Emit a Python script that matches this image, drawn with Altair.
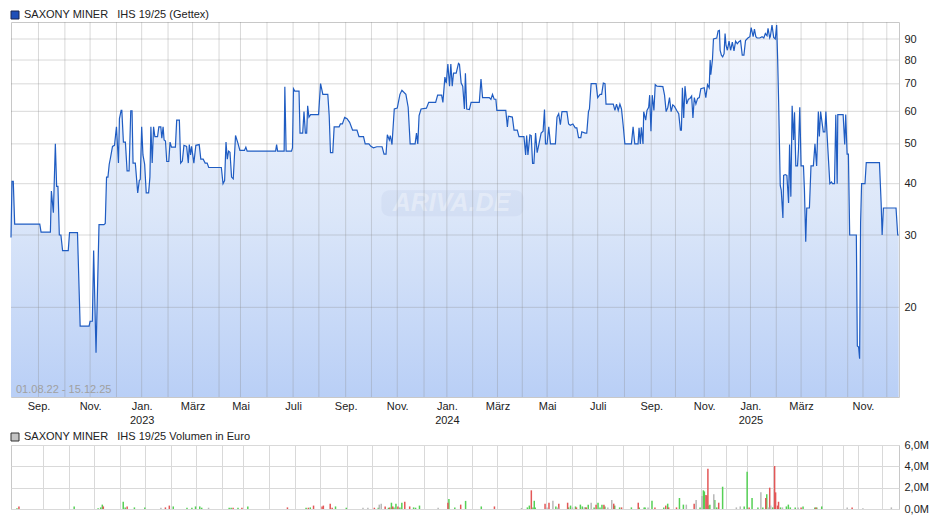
import altair as alt
import pandas as pd

title_main = "SAXONY MINER\u00a0\u00a0 IHS 19/25 (Gettex)"
title_vol = "SAXONY MINER\u00a0\u00a0 IHS 19/25 Volumen in Euro"
date_range_label = "01.08.22 - 15.12.25"
watermark = "ARIVA.DE"

# x axis is a trading-session index (days without trades are skipped)
session_domain = [0, 895]

price_session = [
    0, 1.0, 2.3, 3.7, 29.0, 30.3, 39.7, 40.7, 42.7, 44.7, 46.0, 47.3, 48.7, 50.3, 52.0, 57.7, 59.0, 67.0,
    69.7, 78.7, 79.7, 82.0, 83.3, 85.7, 88.7, 93.7, 95.0, 96.3, 97.7, 99.0, 100.3, 102.3, 104.3, 106.3,
    108.3, 109.3, 111.0, 111.7, 113.3, 115.3, 117.0, 119.0, 120.7, 122.0, 123.0, 125.3, 127.7, 129.3,
    130.3, 131.7, 133.0, 134.7, 136.3, 138.7, 140.0, 141.0, 142.3, 143.7, 145.0, 147.7, 149.0, 151.0,
    152.0, 153.3, 154.3, 155.7, 157.0, 159.0, 160.3, 161.7, 165.7, 167.0, 169.7, 171.0, 172.7, 174.3,
    177.0, 178.7, 179.7, 181.0, 182.0, 184.3, 186.3, 189.7, 191.3, 193.7, 195.7, 197.7, 199.3, 212.0,
    213.7, 215.3, 216.7, 218.0, 219.3, 220.7, 222.3, 224.0, 226.3,
    228.7, 230.7, 235.3, 236.7, 238.0, 266.7, 267.7, 268.7, 275.3, 276.0, 277.3, 282.7, 283.7, 284.7,
    286.0, 290.3, 291.3, 294.0, 295.3, 296.7, 298.0, 299.0, 300.3, 302.0, 310.0, 312.0, 314.3, 319.3,
    320.7, 322.0, 324.3, 325.7, 330.7, 332.0, 334.0, 336.3, 338.7, 341.3, 344.3, 348.7, 350.7, 355.3,
    357.0, 360.7, 362.7, 365.3, 368.7, 374.0, 376.0, 378.0, 379.3, 381.3, 382.3, 384.0, 386.3, 389.3,
    392.0, 394.0, 398.0, 400.3, 402.3, 407.3, 408.7, 410.0, 411.3, 413.3, 418.7, 421.0, 428.0, 430.0,
    434.0, 435.3, 437.3, 438.7, 440.3, 442.0, 443.3, 444.7, 446.0, 448.7, 451.0,
    452.0, 453.7, 455.3, 457.0, 458.0, 459.3, 462.0, 463.7, 472.0, 473.7, 475.3, 482.0, 483.7, 485.3,
    487.0, 488.7, 489.7, 498.7, 500.3, 501.3, 505.3, 507.0, 510.3, 512.0, 517.0, 518.7, 519.7, 521.0,
    523.0, 524.3, 525.7, 527.0, 528.7, 530.3, 532.0, 534.3, 536.3, 537.7, 538.7, 540.3, 542.0, 543.7,
    548.7, 550.3, 552.0, 553.7, 555.3, 560.3, 562.0, 563.7, 566.3, 568.7, 570.3, 572.0, 574.3, 575.3,
    578.7, 580.3, 582.0, 583.0, 584.7, 589.7, 591.3, 593.7, 595.3, 597.0, 598.7, 599.7, 607.0, 608.7,
    610.3, 612.0, 613.7, 615.3, 617.0, 618.7, 625.3, 627.0, 628.7, 632.0, 633.0, 634.3, 635.3, 637.0,
    637.7, 639.7, 641.0, 642.7, 643.7, 645.0, 646.3, 648.0, 649.3, 651.0, 657.0, 658.7, 660.3, 662.0,
    663.7, 665.3, 667.0, 668.7, 671.0, 673.0, 674.7, 675.7,
    676.7, 678.0, 679.3, 681.0, 682.7, 684.3, 686.0, 687.3, 688.7, 690.3, 692.0, 693.7, 695.3, 698.7,
    700.3, 702.0, 703.7, 704.7, 705.3, 707.0, 708.0, 711.3, 712.7, 714.0, 714.7, 716.0, 717.3, 718.7,
    719.7, 720.7, 722.0, 723.7, 725.3, 727.0, 728.7, 730.3, 732.0, 733.7, 735.3, 737.0, 738.7, 740.3,
    742.7, 744.7, 746.0, 748.0, 749.3, 750.7, 752.0, 754.7, 757.0, 758.7, 760.3, 762.0, 763.0, 764.7,
    765.3, 767.0, 768.7, 770.3, 771.7, 772.7, 773.7, 775.3, 776.3, 778.0, 778.7, 780.3, 782.0, 783.7,
    784.7, 786.0, 787.3, 788.7, 789.7, 791.0, 792.7, 793.7, 795.0, 796.3, 798.7, 799.7, 801.0, 802.0,
    804.7, 806.3, 808.7, 810.3, 812.0, 813.7, 814.7, 816.0, 818.7, 820.3, 821.3, 822.7, 824.0, 825.3,
    827.0, 828.0, 830.0, 831.3, 832.7, 833.3, 838.7, 840.3, 841.3, 842.7, 844.0, 845.3, 852.0, 853.0,
    854.3, 855.3, 856.3, 857.3, 860.7, 862.0, 875.3, 877.0, 878.0, 879.3, 892.0, 893.7, 894.7,
]
price_value = [
    29.6, 40.5, 40.5, 31.9, 31.9, 30.5, 30.5, 38.4, 34.0, 50.0, 39.4, 39.4, 30.0, 30.0, 27.5, 27.5, 30.4, 30.4,
    18.0, 18.0, 18.5, 18.5, 27.5, 15.5, 31.8, 31.8, 32.0, 41.5, 41.5, 44.6, 46.3, 49.3, 49.6, 55.0,
    44.9, 57.6, 60.3, 60.3, 50.5, 50.5, 43.0, 43.0, 60.2, 60.2, 44.9, 44.9, 38.0, 40.7,
    41.0, 55.0, 47.0, 44.6, 38.0, 38.0, 41.5, 55.0, 44.9, 55.0, 52.1, 52.1, 55.0, 55.0,
    51.6, 55.0, 51.1, 50.8, 45.3, 45.3, 50.5, 49.1, 49.1, 57.1, 57.1, 44.9, 45.4, 49.6,
    49.3, 44.9, 49.8, 47.0, 49.3, 44.9, 49.6, 49.8, 45.9, 45.9, 44.9, 44.9, 43.8, 43.8,
    40.0, 40.7, 50.5, 45.9, 48.0, 47.7, 41.5, 41.1, 52.4,
    50.2, 48.2, 48.2, 49.1, 48.0, 48.0, 49.8, 48.0, 48.0, 68.9, 48.0, 48.0, 48.9, 68.1,
    67.2, 67.2, 53.1, 53.1, 59.9, 53.1, 53.1, 61.9, 58.1, 58.9, 58.9, 70.1, 66.0, 66.0,
    58.6, 47.6, 47.6, 55.0, 55.0, 55.9, 55.9, 58.0, 57.6, 56.4, 54.0, 54.0, 52.1, 52.1,
    50.0, 50.0, 49.3, 48.9, 49.2, 49.2, 47.2, 47.2, 52.6, 51.1, 52.4, 49.8, 60.8, 61.1,
    66.0, 67.5, 66.0, 61.4, 50.0, 50.0, 53.1, 50.0, 58.6, 60.8, 61.1, 63.1, 63.1, 65.7,
    65.7, 63.1, 72.7, 70.3, 78.2, 69.1, 78.2, 69.1, 74.3, 74.3, 78.5,
    78.1, 70.3, 69.1, 60.8, 74.3, 60.8, 60.6, 63.1, 63.1, 71.9, 64.8, 64.8, 64.2, 66.0,
    64.2, 64.2, 60.3, 60.3, 55.0, 58.4, 58.1, 54.0, 54.0, 52.1, 52.1, 47.0, 52.4, 47.0,
    52.6, 52.4, 44.8, 44.8, 53.1, 47.6, 49.8, 53.1, 53.7, 60.6, 50.0, 50.0, 55.0, 50.0,
    50.0, 58.1, 59.2, 55.7, 59.9, 59.9, 55.9, 55.5, 55.9, 54.7, 54.7, 51.8, 51.8, 53.5,
    53.1, 53.1, 59.9, 60.8, 70.1, 70.1, 64.8, 66.0, 66.0, 70.3, 70.1, 62.5, 62.5, 60.3,
    62.5, 60.3, 62.5, 60.8, 55.5, 50.0, 50.0, 55.0, 50.0, 50.0, 54.7, 50.0, 54.9, 50.0,
    59.9, 57.1, 60.3, 61.4, 65.7, 53.7, 65.7, 60.3, 69.7, 69.1, 68.9, 65.7, 59.9, 61.4,
    64.8, 59.9, 62.2, 61.7, 60.3, 59.2, 54.0, 54.0,
    68.5, 57.8, 69.1, 62.5, 64.2, 64.5, 65.4, 57.8, 64.8, 62.5, 64.5, 64.8, 68.1, 68.5,
    64.8, 69.7, 68.5, 80.0, 73.7, 80.3, 90.0, 90.5, 94.2, 94.5, 84.5, 82.2, 81.4, 82.9,
    92.8, 86.8, 84.5, 88.9, 84.5, 88.4, 84.2, 88.9, 87.6, 88.7, 89.2, 82.2, 82.2, 89.2,
    90.5, 91.2, 95.9, 91.2, 95.1, 91.2, 90.5, 90.5, 91.2, 90.5, 92.8, 91.7, 95.6, 90.5,
    91.2, 97.3, 90.8, 90.0, 97.3, 80.3, 63.1, 39.6, 38.6, 33.0, 41.9, 42.1, 41.9, 35.9,
    49.8, 37.2, 61.9, 51.1, 59.7, 44.2, 44.2, 48.5, 61.4, 44.2, 44.2, 38.6, 28.9, 34.9,
    34.9, 44.2, 44.2, 50.0, 44.2, 59.9, 52.1, 59.9, 53.5, 53.5, 59.9, 51.6, 45.4, 40.0,
    40.4, 40.0, 40.0, 58.9, 40.0, 58.9, 58.9, 49.8, 58.9, 47.2, 47.2, 30.0, 30.0, 16.1,
    16.0, 15.0, 32.1, 40.0, 40.0, 45.0, 45.0, 35.9, 30.0, 34.9, 34.9, 30.0, 30.0,
]

# month boundaries on the session axis; "|" splits a two-line label
month_session = [27.7, 54.3, 79.7, 106.3, 131.7, 158.3, 183.0, 209.7, 231.3, 258.0, 284.3, 310.3,
                 337.3, 363.3, 389.3, 416.3, 439.3, 465.3, 490.3, 515.3, 540.3, 566.3, 591.3, 618.3,
                 645.3, 669.7, 698.7, 723.7, 745.3, 771.3, 796.3, 821.3, 843.3, 858.7, 882.7]
month_label = ["Sep.", "", "Nov.", "", "Jan.|2023", "", "März", "", "Mai", "", "Juli", "",
               "Sep.", "", "Nov.", "", "Jan.|2024", "", "März", "", "Mai", "", "Juli", "",
               "Sep.", "", "Nov.", "", "Jan.|2025", "", "März", "", "", "Nov.", ""]

price_ticks = [20, 30, 40, 50, 60, 70, 80, 90]
price_domain = [12.1, 99]
vol_ticks = [0, 2, 4, 6]
vol_domain = [0, 6]

# volume in million EUR, split by day direction
vol_up_session = [1.0, 59.3, 83.7, 86.3, 88.0, 109.3, 111.3, 120.7, 131.3, 160.3, 174.3, 179.3, 183.0,
                  187.3, 189.3, 217.3, 219.3, 226.3, 236.3, 295.7, 300.0, 325.7, 336.7, 369.3, 379.7,
                  382.7, 385.3, 387.3, 391.3, 393.3, 405.3, 407.3, 411.3, 441.3, 447.3, 458.3, 474.3,
                  521.3, 523.3, 527.0, 528.3, 529.3, 550.3, 563.3, 565.3, 570.3, 575.3, 577.3, 580.3,
                  583.3, 589.3, 593.3, 595.3, 597.3, 600.3, 610.3, 615.3, 627.3, 635.3, 640.3, 641.3,
                  648.3, 660.3, 664.3, 676.3, 680.3, 697.3, 700.7, 701.7, 706.3, 707.3, 712.3, 714.3,
                  720.3, 742.3, 745.3, 750.3, 756.3, 761.3, 765.3, 771.3, 779.3, 785.3, 787.3, 789.3,
                  794.3, 802.3, 814.3, 816.3, 821.3]
vol_up_value = [0.06, 0.24, 0.06, 0.15, 0.41, 0.68, 0.15, 0.15, 0.15, 0.24, 0.12, 0.12, 0.24,
                0.24, 0.12, 0.12, 0.12, 0.12, 0.24, 0.12, 0.15, 0.24, 0.12, 0.12, 0.12,
                0.59, 0.15, 0.5, 0.15, 0.59, 0.15, 0.12, 0.32, 0.94, 0.15, 0.76, 0.24,
                0.15, 0.32, 0.15, 0.77, 0.15, 0.24, 0.15, 0.32, 0.24, 0.41, 0.24, 0.15,
                0.41, 0.15, 0.59, 0.15, 0.41, 0.24, 0.32, 0.15, 0.15, 0.15, 0.15, 0.15,
                0.77, 0.15, 0.5, 1.03, 0.41, 0.15, 1.75, 1.65, 0.32, 0.41, 0.85, 0.15,
                2.09, 0.24, 3.5, 1.03, 0.15, 0.15, 1.38, 0.15, 0.15, 0.24, 0.41, 0.15,
                0.15, 0.24, 0.15, 0.15, 0.24]
vol_down_session = [3.0, 89.0, 113.3, 152.3, 156.3, 221.3, 230.3, 276.7, 298.0, 303.3, 312.0, 313.3,
                    320.3, 322.3, 365.3, 376.3, 381.0, 384.0, 389.3, 396.3, 401.3, 440.3, 453.3, 487.7,
                    525.3, 539.3, 543.3, 553.3, 562.3, 571.3, 581.3, 591.3, 599.3, 609.3, 617.3, 634.3,
                    651.3, 662.3, 665.3, 673.3, 691.3, 703.3, 704.3, 705.3, 716.3, 747.3, 764.3, 768.3,
                    773.3, 774.3, 776.3, 777.3, 800.3, 815.3, 852.3]
vol_down_value = [0.24, 0.24, 0.24, 0.15, 0.32, 0.12, 0.12, 0.15, 0.12, 0.32, 0.24, 0.32,
                  0.5, 0.12, 0.12, 0.24, 0.15, 0.24, 0.24, 0.68, 0.24, 0.59, 0.41, 0.24,
                  1.75, 0.5, 0.59, 0.5, 0.59, 0.15, 0.15, 0.41, 0.41, 0.5, 0.15, 0.59,
                  0.15, 0.32, 0.15, 0.15, 0.5, 1.32, 1.27, 3.77, 0.59, 0.15, 1.03, 2.0,
                  4.03, 1.56, 0.32, 0.68, 0.15, 0.15, 0.15]
vol_flat_session = [147.7, 196.3, 353.7, 358.7, 370.3, 372.3, 430.3, 515.3, 541.3, 547.3, 552.3, 567.3,
                    579.3, 586.3, 603.3, 607.3, 644.3, 683.3, 693.3, 699.3, 711.3, 734.3, 738.3, 759.3,
                    767.3, 769.3, 781.3, 797.3, 847.3, 863.3, 892.3]
vol_flat_value = [0.12, 0.12, 0.12, 0.12, 0.41, 0.5, 0.12, 0.1, 0.15, 0.77, 0.15, 0.15,
                  0.15, 0.59, 0.15, 0.85, 0.15, 0.41, 0.85, 1.21, 1.38, 0.15, 0.24, 1.56,
                  0.15, 0.32, 0.15, 0.15, 0.15, 0.06, 0.15]

W = 888
H1 = 375
H2 = 64
FONT = "Liberation Sans"
GRID = "#8a8a8a"


def js_label(lab):
    parts = lab.split("|")
    if len(parts) > 1:
        return "[" + ",".join("'" + p + "'" for p in parts) + "]"
    return "'" + lab + "'"


label_expr = "''"
for s, lab in zip(reversed(month_session), reversed(month_label)):
    if lab:
        label_expr = f"datum.value == {s} ? {js_label(lab)} : ({label_expr})"

df_price = pd.DataFrame({"session": price_session, "price": price_value})
df_month = pd.DataFrame({"session": month_session})
df_ptick = pd.DataFrame({"price": price_ticks})
df_vol = pd.concat([
    pd.DataFrame({"session": vol_up_session, "vol": vol_up_value, "dir": "up"}),
    pd.DataFrame({"session": vol_down_session, "vol": vol_down_value, "dir": "down"}),
    pd.DataFrame({"session": vol_flat_session, "vol": vol_flat_value, "dir": "flat"}),
], ignore_index=True)

x_top = alt.X("session:Q", title=None,
              scale=alt.Scale(domain=session_domain, nice=False, zero=False),
              axis=alt.Axis(values=month_session, labelExpr=label_expr, grid=False, ticks=False,
                            domain=False, labelPadding=3, labelLineHeight=14, labelOverlap=False,
                            labelFlush=False, labelFontSize=11, labelColor="#222222", labelFont=FONT))
y_top = alt.Y("price:Q", title=None,
              scale=alt.Scale(type="log", domain=price_domain, nice=False),
              axis=alt.Axis(orient="right", values=price_ticks, format="d", grid=False, ticks=False,
                            domain=False, labelPadding=5, labelFontSize=11, labelColor="#222222",
                            labelFont=FONT))

gradient = alt.Gradient(
    gradient="linear",
    stops=[alt.GradientStop(color="#f4f7fe", offset=0),
           alt.GradientStop(color="#dce7f9", offset=0.5),
           alt.GradientStop(color="#b9cff6", offset=1)],
    x1=1, x2=1, y1=0, y2=1)

area = alt.Chart(df_price).mark_area(fill=gradient, interpolate="linear", opacity=1).encode(
    x=x_top, y=y_top, y2=alt.datum(price_domain[0]))

one = pd.DataFrame({"t": [0]})
wm_box = alt.Chart(one).mark_rect(color="#8ea6d4", opacity=0.11, cornerRadius=8).encode(
    x=alt.value(W * 0.496 - 70), x2=alt.value(W * 0.496 + 72),
    y=alt.value(H1 * 0.483 - 13), y2=alt.value(H1 * 0.483 + 13))
wm_text = alt.Chart(one).mark_text(text=watermark, font=FONT, fontSize=25, fontStyle="italic",
                                   fontWeight="bold", color="#ffffff", opacity=0.35,
                                   align="center", baseline="middle").encode(
    x=alt.value(W * 0.496), y=alt.value(H1 * 0.483))

vgrid = alt.Chart(df_month).mark_rule(color=GRID, opacity=0.32, strokeWidth=1).encode(x=x_top)
hgrid = alt.Chart(df_ptick).mark_rule(color=GRID, opacity=0.32, strokeWidth=1).encode(y=y_top)

line = alt.Chart(df_price).mark_line(color="#1f5cc2", strokeWidth=1.2, interpolate="linear").encode(
    x=x_top, y=y_top)

range_text = alt.Chart(one).mark_text(text=date_range_label, font=FONT, fontSize=11, color="#a0a0a0",
                                      align="left", baseline="middle").encode(
    x=alt.value(5), y=alt.value(H1 - 7))

sq_main = alt.Chart(one).mark_square(size=64, fill="#1f4fb8", stroke="#1a2650", strokeWidth=1,
                                     opacity=1).encode(x=alt.value(4), y=alt.value(-7))
t_main = alt.Chart(one).mark_text(text=title_main, font=FONT, fontSize=11, color="#222222",
                                  align="left", baseline="middle").encode(
    x=alt.value(13), y=alt.value(-7))

top = alt.layer(area, wm_box, wm_text, vgrid, hgrid, line, range_text, sq_main, t_main).properties(
    width=W, height=H1)

x_vol = alt.X("session:Q", title=None,
              scale=alt.Scale(domain=session_domain, nice=False, zero=False),
              axis=alt.Axis(values=month_session, labels=False, ticks=False, domain=False, grid=True,
                            gridColor="#d9d9d9"))
y_vol = alt.Y("vol:Q", title=None, scale=alt.Scale(domain=vol_domain, nice=False),
              axis=alt.Axis(orient="right", values=vol_ticks, grid=True, gridColor="#d9d9d9",
                            ticks=False, domain=False, labelPadding=5, labelFontSize=11,
                            labelColor="#222222", labelFont=FONT,
                            labelExpr="replace(format(datum.value, '.1f'), '.', ',') + 'M'"))

bars = alt.Chart(df_vol).mark_bar(size=1.5).encode(
    x=x_vol, y=y_vol,
    color=alt.Color("dir:N", legend=None,
                    scale=alt.Scale(domain=["up", "down", "flat"],
                                    range=["#55d055", "#e35757", "#b8b8b8"])))
sq_vol = alt.Chart(one).mark_square(size=64, fill="#c4c4c4", stroke="#333333", strokeWidth=1,
                                    opacity=1).encode(x=alt.value(4), y=alt.value(-8))
t_vol = alt.Chart(one).mark_text(text=title_vol, font=FONT, fontSize=11, color="#222222",
                                 align="left", baseline="middle").encode(
    x=alt.value(13), y=alt.value(-8))

vol = alt.layer(bars, sq_vol, t_vol).properties(width=W, height=H2)

chart = alt.VConcatChart(vconcat=[top, vol], spacing=4, padding=0).configure(
    font=FONT).configure_view(stroke="#c8c8c8", strokeWidth=1)

chart.save("out.html", embed_options={"renderer": "svg", "actions": False})
